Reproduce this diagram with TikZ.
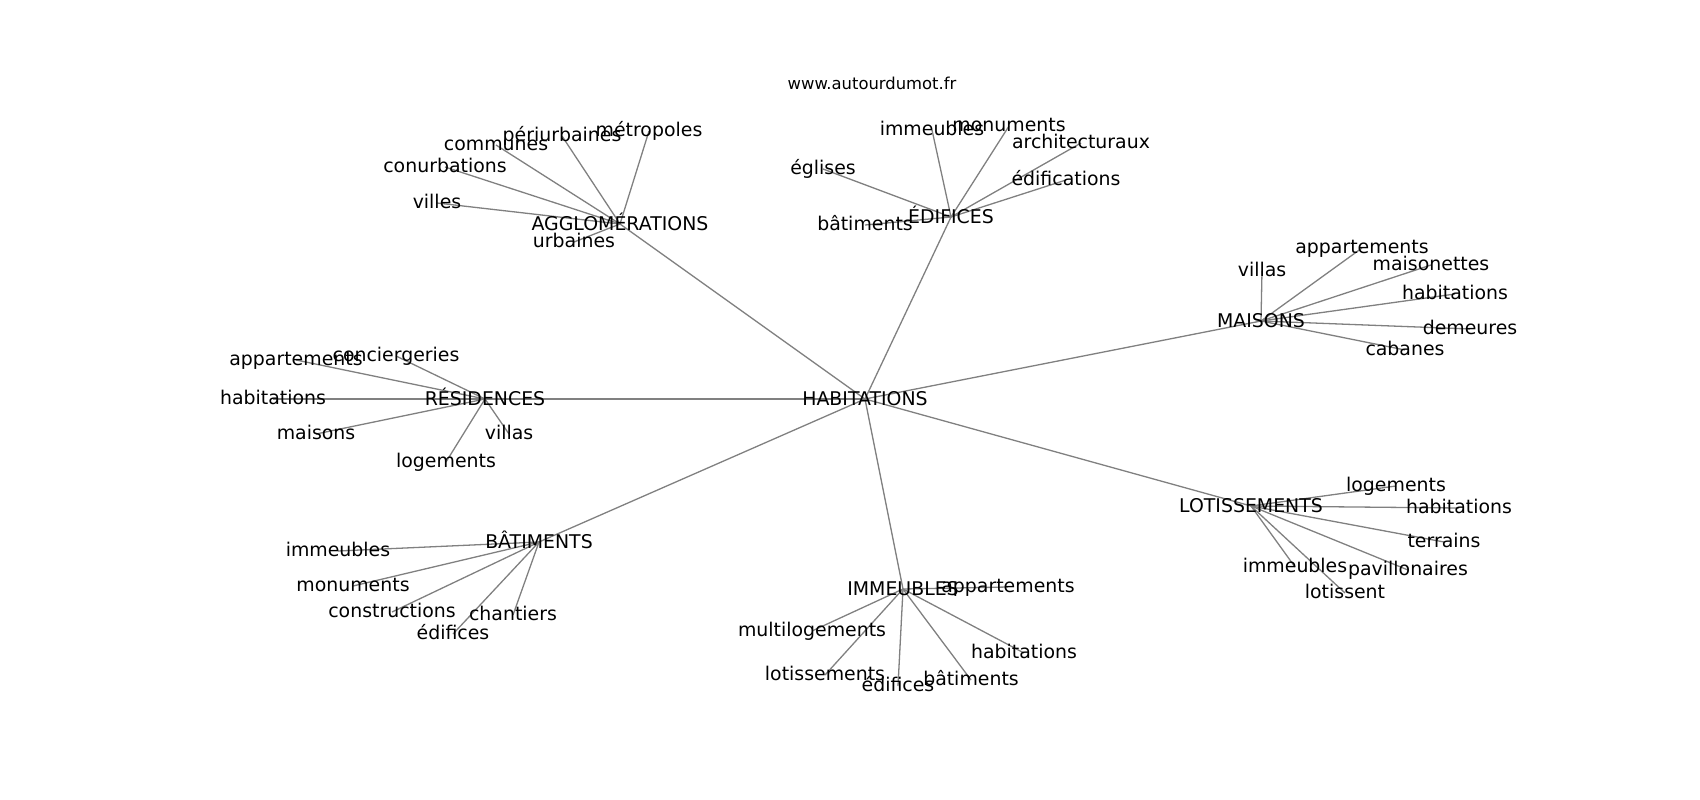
\documentclass[tikz,border=0pt]{standalone}
\usepackage{fontspec}
\setmainfont{DejaVu Sans}
\usetikzlibrary{backgrounds}

\begin{document}
\begin{tikzpicture}[x=1pt, y=-1pt,
    word/.style={font=\fontsize{18.9}{22}\selectfont, inner sep=0pt, text height=12pt, text depth=1.6pt},
    hub/.style={word, text height=14pt, text depth=1.2pt},
    link/.style={draw=gray, line width=1.3pt}]

\useasboundingbox (0,0) rectangle (1700,800);

\node[font=\fontsize{16.4}{19}\selectfont, inner sep=0pt] (site) at (872,83) {www.autourdumot.fr};

% centre and hubs
\node[hub] (hab) at (865,399) {HABITATIONS};
\node[hub] (agg) at (620,224) {AGGLOMÉRATIONS};
\node[hub] (edi) at (951,217) {ÉDIFICES};
\node[hub] (mai) at (1261,321) {MAISONS};
\node[hub] (res) at (485,399) {RÉSIDENCES};
\node[hub] (lot) at (1251,506) {LOTISSEMENTS};
\node[hub] (bat) at (539,542) {BÂTIMENTS};
\node[hub] (imm) at (903,589) {IMMEUBLES};

\begin{scope}[on background layer]
\foreach \h in {agg,edi,mai,res,lot,bat,imm}
    \draw[link] (hab.center) -- (\h.center);
\end{scope}

% leaves: hub/name/x/y/text
\foreach \h/\n/\x/\y/\t in {
    agg/agg1/437/203/villes, agg/agg2/445/167/conurbations, agg/agg3/496/145/communes,
    agg/agg4/562/136/périurbaines, agg/agg5/649/131/métropoles, agg/agg6/574/242/urbaines,
    edi/edi1/932/130/immeubles, edi/edi2/1009/126/monuments, edi/edi3/1081/143/architecturaux,
    edi/edi4/823/169/églises, edi/edi5/1066/180/édifications, edi/edi6/865/225/bâtiments,
    mai/mai1/1262/271/villas, mai/mai2/1362/248/appartements, mai/mai3/1431/265/maisonettes,
    mai/mai4/1455/294/habitations, mai/mai5/1470/329/demeures, mai/mai6/1405/350/cabanes,
    res/res1/296/360/appartements, res/res2/396/356/conciergeries, res/res3/273/399/habitations,
    res/res4/316/434/maisons, res/res5/509/434/villas, res/res6/446/462/logements,
    lot/lot1/1396/486/logements, lot/lot2/1459/508/habitations, lot/lot3/1444/542/terrains,
    lot/lot4/1295/567/immeubles, lot/lot5/1408/570/pavillonaires, lot/lot6/1345/593/lotissent,
    bat/bat1/338/551/immeubles, bat/bat2/353/586/monuments, bat/bat3/392/612/constructions,
    bat/bat4/513/615/chantiers, bat/bat5/453/634/édifices,
    imm/imm1/1008/587/appartements, imm/imm2/812/631/multilogements, imm/imm3/1024/653/habitations,
    imm/imm4/825/675/lotissements, imm/imm5/898/686/édifices, imm/imm6/971/680/bâtiments}
{
    \node[word] (\n) at (\x,\y) {\t};
    \begin{pgfonlayer}{background}
        \draw[link] (\h.center) -- (\n.center);
    \end{pgfonlayer}
}
\end{tikzpicture}
\end{document}
